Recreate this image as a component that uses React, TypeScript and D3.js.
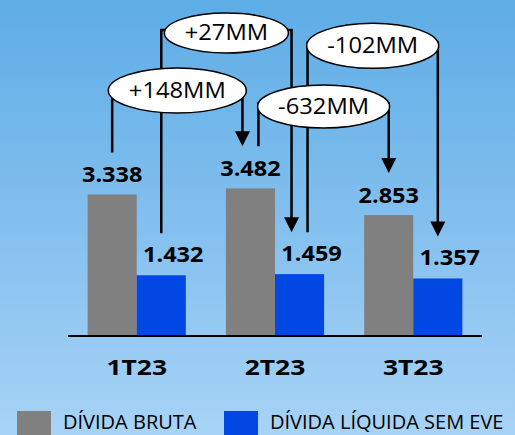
import React from 'react';
import * as d3 from 'd3';

const categories = ['1T23', '2T23', '3T23'];
const seriesNames = ['DÍVIDA BRUTA', 'DÍVIDA LÍQUIDA SEM EVE'];
const grossDebt = [3338, 3482, 2853];
const netDebt = [1432, 1459, 1357];
const deltaLabels = ['+148MM', '+27MM', '-632MM', '-102MM'];
const deltaSeries = [0, 1, 0, 1];
const deltaFrom = ['1T23', '1T23', '2T23', '2T23'];
const deltaTo = ['2T23', '2T23', '3T23', '3T23'];

const W = 515;
const H = 435;
const COLORS = ['#808080', '#0047E4'];
const FONT = "'Open Sans', sans-serif";

const fmt = d3.formatLocale({ decimal: ',', thousands: '.', grouping: [3], currency: ['', ''] }).format(',d');

function Txt({ x, y, sx = 1, size, weight = 400, anchor = 'middle', children }: any) {
  return (
    <text
      transform={`translate(${x},${y}) scale(${sx},1)`}
      textAnchor={anchor}
      fontFamily={FONT}
      fontSize={size}
      fontWeight={weight}
      fill="#000"
    >
      {children}
    </text>
  );
}

const charW = (c: string) => (c === '-' ? 8 : c === 'M' ? 17 : 14);

export default function App() {
  const x = d3.scaleBand().domain(categories).range([68, 482]).paddingInner(0.29).paddingOuter(0.142);
  const sub = d3.scaleBand().domain(['0', '1']).range([0, x.bandwidth()]).padding(0);
  const y = d3.scaleLinear().domain([0, 3500]).range([336, 336 - 148.4]);
  const values = [grossDebt, netDebt];

  const barCenter = (cat: string, s: number) => (x(cat) as number) + (sub(String(s)) as number) + sub.bandwidth() / 2;
  const valueOf = (cat: string, s: number) => values[s][categories.indexOf(cat)];

  const levels = [90.5, 33, 106.5, 45.8];
  const ry = [22.5, 20, 21.5, 22.5];

  const arrows = deltaLabels.map((label, i) => {
    const s = deltaSeries[i];
    const fromHasIncoming = deltaTo.some((t, j) => t === deltaFrom[i] && deltaSeries[j] === s);
    const toHasOutgoing = deltaFrom.some((f, j) => f === deltaTo[i] && deltaSeries[j] === s);
    const x1 = barCenter(deltaFrom[i], s) + (fromHasIncoming ? 8 : 0);
    const x2 = barCenter(deltaTo[i], s) - (toHasOutgoing ? 8 : 0);
    const y1 = y(valueOf(deltaFrom[i], s)) - 42;
    const y2 = y(valueOf(deltaTo[i], s)) - 42;
    const cx = (x1 + x2) / 2;
    const cy = levels[i];
    const tw = label.split('').reduce((acc, c) => acc + charW(c), 0);
    const rx = 24 + tw / 2;
    return { label, x1, x2, y1, y2, cx, cy, rx, ry: ry[i] };
  });

  const linePath = (lx: number, ly: number, a: any) => {
    if (Math.abs(lx - a.cx) >= a.rx - 1) {
      const ex = a.cx + Math.sign(lx - a.cx) * (a.rx - 2);
      return `M${ex},${a.cy - 3}H${lx}V${ly}`;
    }
    return `M${lx},${a.cy}V${ly}`;
  };

  return (
    <svg width={W} height={H} style={{ position: 'absolute', left: 0, top: 0 }}>
      <defs>
        <linearGradient id="bg" x1="0" y1="0" x2="0" y2="1">
          <stop offset="0" stopColor="#5EADE6" />
          <stop offset="0.5" stopColor="#82BFEE" />
          <stop offset="1" stopColor="#A7D3F6" />
        </linearGradient>
      </defs>
      <rect x={0} y={0} width={W} height={H} fill="url(#bg)" />

      {categories.map((cat, ci) =>
        values.map((vals, s) => (
          <rect
            key={cat + s}
            x={(x(cat) as number) + (sub(String(s)) as number)}
            y={y(vals[ci])}
            width={sub.bandwidth()}
            height={y(0) - y(vals[ci])}
            fill={COLORS[s]}
          />
        ))
      )}

      <line x1={68} x2={482} y1={y(0)} y2={y(0)} stroke="#000" strokeWidth={2} />

      {categories.map((cat, ci) => (
        <g key={'lbl' + cat}>
          <Txt x={barCenter(cat, 0)} y={y(grossDebt[ci]) - 12} size={21} weight={700} sx={1.12}>
            {fmt(grossDebt[ci])}
          </Txt>
          <Txt x={barCenter(cat, 1) + 12} y={y(netDebt[ci]) - 13} size={21} weight={700} sx={1.12}>
            {fmt(netDebt[ci])}
          </Txt>
          <Txt x={(x(cat) as number) + x.bandwidth() / 2} y={375} size={22} weight={700} sx={1.2}>
            {cat}
          </Txt>
        </g>
      ))}

      {arrows.map((a) => (
        <g key={a.label}>
          <path d={linePath(a.x1, a.y1, a)} fill="none" stroke="#000" strokeWidth={2.5} />
          <path d={linePath(a.x2, a.y2 - 13, a)} fill="none" stroke="#000" strokeWidth={2.5} />
          <path d={`M${a.x2 - 7.5},${a.y2 - 15}L${a.x2 + 7.5},${a.y2 - 15}L${a.x2},${a.y2}Z`} fill="#000" />
        </g>
      ))}
      {arrows.map((a) => (
        <g key={'e' + a.label}>
          <ellipse cx={a.cx} cy={a.cy} rx={a.rx} ry={a.ry} fill="#fff" stroke="#000" strokeWidth={1.5} />
          <Txt x={a.cx} y={a.cy + 7} size={21} sx={1.13}>
            {a.label}
          </Txt>
        </g>
      ))}

      {seriesNames.map((name, s) => {
        const lx = s === 0 ? 17 : 224;
        return (
          <g key={name}>
            <rect x={lx} y={411} width={34} height={30} fill={COLORS[s]} />
            <Txt x={lx + 46} y={429} size={20} anchor="start">
              {name}
            </Txt>
          </g>
        );
      })}
    </svg>
  );
}
